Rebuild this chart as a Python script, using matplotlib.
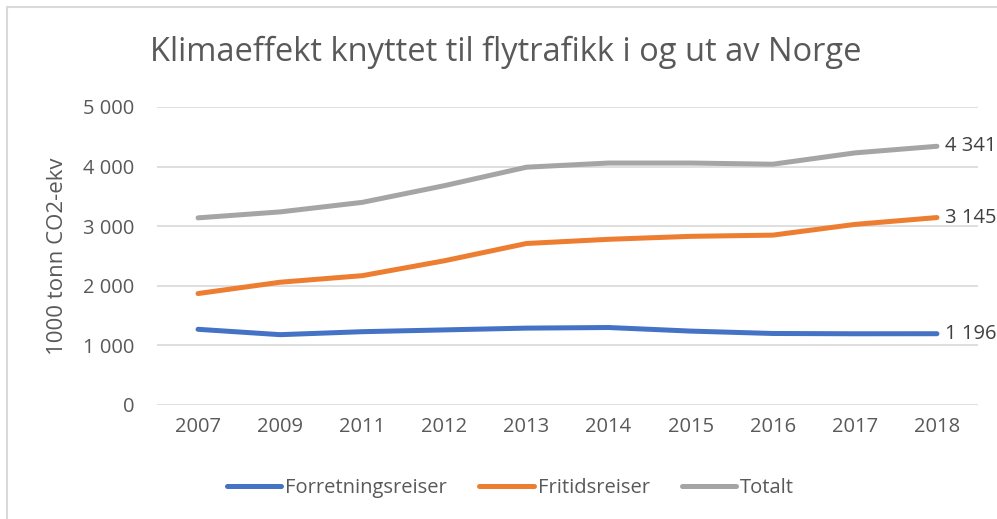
import matplotlib.pyplot as plt
from matplotlib.patches import Rectangle
from matplotlib.ticker import FuncFormatter

years = ["2007", "2009", "2011", "2012", "2013", "2014", "2015", "2016", "2017", "2018"]
forretning = [1270, 1180, 1230, 1260, 1290, 1300, 1240, 1200, 1195, 1196]
fritid = [1870, 2060, 2170, 2420, 2710, 2780, 2830, 2850, 3030, 3145]
totalt = [3140, 3240, 3400, 3680, 3990, 4060, 4060, 4040, 4230, 4341]

plt.rcParams["font.family"] = ["Open Sans", "DejaVu Sans"]
text_color = "#595959"


def fmt(v, pos=None):
    return f"{int(v):,}".replace(",", " ")


fig = plt.figure(figsize=(9.97, 5.19), dpi=100)
ax = fig.add_axes([157 / 997, 1 - 405 / 519, (978 - 157) / 997, (405 - 107) / 519])

# chart border (cropped on the right and bottom)
fig.patches.append(Rectangle((7 / 997, -0.1), 1.2, 1 - 7.5 / 519 + 0.1, transform=fig.transFigure,
                             fill=False, edgecolor="#D9D9D9", linewidth=1.5))

x = range(len(years))
series = [("Forretningsreiser", forretning, "#4472C4"),
          ("Fritidsreiser", fritid, "#ED7D31"),
          ("Totalt", totalt, "#A5A5A5")]
for name, vals, col in series:
    ax.plot(x, vals, color=col, linewidth=3.6, solid_capstyle="round", solid_joinstyle="round", label=name)
    ax.annotate(fmt(vals[-1]), (x[-1], vals[-1]), xytext=(5.5, 0), textcoords="offset points",
                va="center", ha="left", fontsize=14.5, color="#404040", annotation_clip=False)

ax.set_xlim(-0.5, len(years) - 0.5)
ax.set_ylim(0, 5000)
ax.set_yticks(range(0, 5001, 1000))
ax.yaxis.set_major_formatter(FuncFormatter(fmt))
ax.set_xticks(list(x))
ax.set_xticklabels(years)
ax.grid(axis="y", color="#D9D9D9", linewidth=1.2)
ax.set_axisbelow(True)
for s in ax.spines.values():
    s.set_visible(False)
ax.tick_params(length=0, labelsize=14.5, colors=text_color, pad=9)
ax.tick_params(axis="y", pad=16.5)
ax.set_ylabel("1000 tonn CO2-ekv", fontsize=16, color=text_color)
ax.yaxis.set_label_coords(-0.108, 0.5)

fig.text(0.507, 1 - 52 / 519, "Klimaeffekt knyttet til flytrafikk i og ut av Norge", ha="center", va="center",
         fontsize=23.5, color=text_color)

leg = fig.legend(loc="center", bbox_to_anchor=(0.512, 1 - 488 / 519), ncol=3, frameon=False,
                 fontsize=14.5, handlelength=2.7, handletextpad=0.2, columnspacing=1.6)
for t in leg.get_texts():
    t.set_color(text_color)

fig.savefig("out.png", dpi=100)
